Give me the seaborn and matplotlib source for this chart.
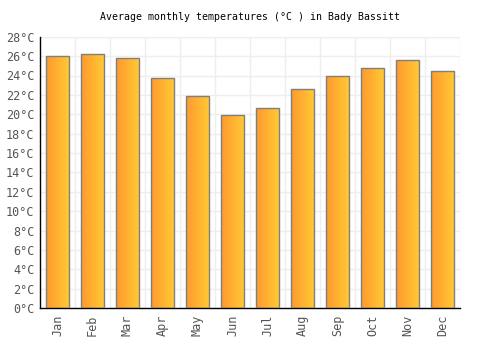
import matplotlib
matplotlib.use('Agg')
import matplotlib.pyplot as plt
import matplotlib.transforms as mtransforms
import numpy as np
import pandas as pd
import seaborn as sns
from matplotlib.colors import LinearSegmentedColormap

months = ['Jan', 'Feb', 'Mar', 'Apr', 'May', 'Jun',
          'Jul', 'Aug', 'Sep', 'Oct', 'Nov', 'Dec']
temps = [26.0, 26.2, 25.8, 23.7, 21.9, 19.9,
         20.6, 22.6, 24.0, 24.8, 25.6, 24.5]
yticks = list(range(0, 29, 2))

df = pd.DataFrame({'month': months, 'temp': temps})

sns.set_style('white')
plt.rcParams['font.family'] = ['DejaVu Sans Mono', 'DejaVu Sans']

fig = plt.figure(figsize=(5, 3.5), dpi=100)
ax = fig.add_axes([0.08, 0.12, 0.84, 0.775])

sns.barplot(data=df, x='month', y='temp', width=0.66,
            color='#ffb030', edgecolor='#7f7f7f', linewidth=1.0,
            zorder=3, ax=ax)

# gradient fill for each bar
cmap = LinearSegmentedColormap.from_list('og', ['#ff9a2e', '#ffca35'])
grad = np.linspace(0, 1, 64).reshape(1, -1)
for p in ax.patches:
    x0, y0 = p.get_x(), p.get_y()
    w, h = p.get_width(), p.get_height()
    im = ax.imshow(grad, cmap=cmap, aspect='auto', zorder=2.5,
                   extent=(x0, x0 + w, y0, y0 + h), origin='lower')
    im.set_clip_path(p)
    p.set_facecolor('none')

ax.set_xlim(-0.5, 11.5)
ax.set_ylim(0, 28)
ax.set_yticks(yticks)
ax.set_yticklabels([f'{t}°C' for t in yticks])
ax.set_xticks(range(12))
ax.set_xticks(np.arange(0.5, 11.5, 1), minor=True)
ax.tick_params(axis='both', labelsize=8.5, colors='#555555', length=0, pad=4)
ax.tick_params(axis='x', which='minor', length=0)
ax.set_xticklabels([])

# rotated month labels under the axis
trans = mtransforms.blended_transform_factory(ax.transData, ax.transAxes)
for i, m in enumerate(months):
    ax.text(i, -0.025, m, transform=trans, rotation=90,
            ha='center', va='top', fontsize=8.5, color='#555555')

ax.grid(axis='y', color='#eeeeee', linewidth=1, zorder=0)
ax.grid(axis='x', which='minor', color='#eeeeee', linewidth=1, zorder=0)
ax.set_axisbelow(True)

for s in ['top', 'right']:
    ax.spines[s].set_visible(False)
for s in ['left', 'bottom']:
    ax.spines[s].set_color('black')
    ax.spines[s].set_linewidth(1)

# right/top grid border
ax.axvline(11.5, color='#eeeeee', linewidth=1, zorder=0)
ax.axhline(28, color='#eeeeee', linewidth=1, zorder=0)

ax.set_xlabel('')
ax.set_ylabel('')
ax.set_title('Average monthly temperatures (°C ) in Bady Bassitt',
             fontsize=7.1, color='black', pad=12)

fig.savefig('out.png', dpi=100)
